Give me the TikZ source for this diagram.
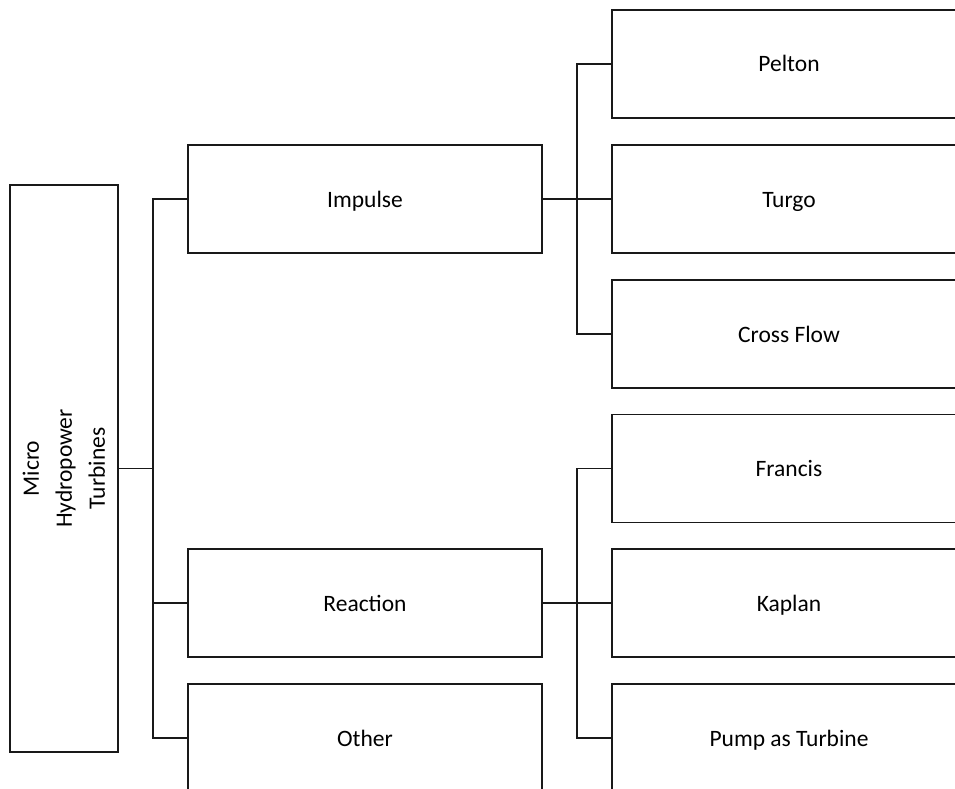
\documentclass[tikz,border=0pt]{standalone}
\usepackage{fontspec}
\setmainfont{Carlito}
\begin{document}
\begin{tikzpicture}[x=1pt,y=-1pt,
  box/.style={draw=black!90,line width=1.5pt,minimum width=354pt,minimum height=108pt,inner sep=0pt,
    text height=18pt,text depth=2pt,font=\fontsize{23.5}{28}\selectfont},
  conn/.style={draw=black!90,line width=1.5pt}]
\useasboundingbox (0,0) rectangle (955,789);
\clip (0,0) rectangle (955,789);
% root
\node[draw=black!90,line width=1.5pt,minimum width=108pt,minimum height=567pt,inner sep=0pt] (mhp) at (64,468.5) {};
\node[rotate=90,align=center,font=\fontsize{23.5}{33}\selectfont] (mhpt) at (mhp.center) {Micro\\Hydropower\\Turbines};
% middle column
\node[box] (imp) at (365,199) {Impulse};
\node[box] (rea) at (365,603) {Reaction};
\node[box] (oth) at (365,738) {Other};
% right column
\node[box] (pel) at (789,64) {Pelton};
\node[box] (tur) at (789,199) {Turgo};
\node[box] (cro) at (789,334) {Cross Flow};
\node[box] (fra) at (789,468.5) {Francis};
\node[box] (kap) at (789,603) {Kaplan};
\node[box] (pum) at (789,738) {Pump as Turbine};
% junctions
\coordinate (j1) at (153,468.5);
\coordinate (j2) at (577,199);
\coordinate (j3) at (577,603);
% connectors
\draw[conn] (mhp.east) -- (j1);
\draw[conn] (imp.west) -| (j1) |- (oth.west);
\draw[conn] (j1) |- (rea.west);
\draw[conn] (imp.east) -- (tur.west);
\draw[conn] (pel.west) -| (j2) |- (cro.west);
\draw[conn] (rea.east) -- (kap.west);
\draw[conn] (fra.west) -| (j3) |- (pum.west);
\end{tikzpicture}
\end{document}
